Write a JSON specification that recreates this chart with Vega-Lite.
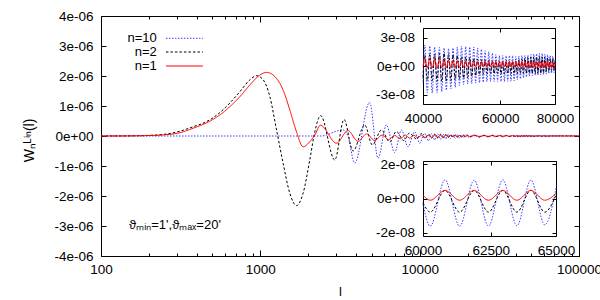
{
"$schema":"https://vega.github.io/schema/vega-lite/v6.json",
"width":478,"height":240,
"autosize":"none",
"padding":{"left":101,"top":16,"right":21,"bottom":44},
"config":{"view":{"stroke":null},"font":"Liberation Sans",
"axis":{"grid":false,"domainColor":"#000","tickColor":"#000","labelColor":"#000","titleColor":"#000","labelFontSize":13.5,"titleFontSize":13,"titleFontWeight":"normal","labelFlush":false,"labelOverlap":false,"labelFont":"Liberation Sans","titleFont":"Liberation Sans"},
"text":{"font":"Liberation Sans","fontSize":13,"color":"#000"}},
"datasets":{"curves":[
{"l":100,"n=10":0,"n=2":0,"n=1":0},
{"l":150,"n=2":5e-9,"n=1":3e-9},
{"l":200,"n=2":2e-8,"n=1":1.5e-8},
{"l":234,"n=2":4e-8,"n=1":3e-8},
{"l":313,"n=2":1.6e-7,"n=1":1.1e-7},
{"l":379,"n=2":3.1e-7,"n=1":2.6e-7},
{"l":460,"n=2":4.8e-7,"n=1":4.4e-7},
{"l":557,"n=2":7.8e-7,"n=1":7.0e-7},
{"l":644,"n=2":1.1e-6,"n=1":9.8e-7},
{"l":744,"n=2":1.48e-6,"n=1":1.31e-6},
{"l":859,"n=2":1.87e-6,"n=1":1.7e-6},
{"l":946,"n=2":2.01e-6},
{"l":993,"n=1":2.03e-6},
{"l":1043,"n=2":1.87e-6},
{"l":1093,"n=1":2.12e-6},
{"l":1148,"n=2":1.31e-6},
{"l":1234,"n=1":1.98e-6},
{"l":1264,"n=2":2e-7},
{"l":1390,"n=2":-9.1e-7,"n=1":1.53e-6},
{"l":1531,"n=2":-1.91e-6,"n=1":8.7e-7},
{"l":1687,"n=2":-2.32e-6,"n=1":1.4e-7},
{"l":1855,"n=2":-1.91e-6,"n=1":-3.6e-7},
{"l":2043,"n=2":-8e-7,"n=1":-1.9e-7},
{"l":2197,"n=2":1.4e-7,"n=1":3e-8},
{"l":2380,"n=1":3.6e-7},
{"l":2390,"n=2":6.8e-7},
{"l":2400,"n=10":0},
{"l":2700,"n=10":6e-8},
{"l":2857,"n=10":1.2e-7},
{"l":2931,"n=2":-8e-7},
{"l":3006,"n=1":-2.4e-7},
{"l":3303,"n=10":2e-7},
{"l":3350,"n=2":5.5e-7},
{"l":3548,"n=10":0,"n=1":1.8e-7},
{"l":3818,"n=2":-5e-7},
{"l":3909,"n=10":-9e-7},
{"l":4100,"n=1":-1.8e-7},
{"l":4519,"n=2":3.7e-7},
{"l":4650,"n=1":7e-8},
{"l":4853,"n=10":1.12e-6},
{"l":5047,"n=2":-3e-7},
{"l":5220,"n=1":-1.5e-7},
{"l":5484,"n=10":-7.4e-7},
{"l":5754,"n=2":2e-7},
{"l":5800,"n=1":3e-8},
{"l":6180,"n=10":3.7e-7},
{"l":6400,"n=1":-1.2e-7},
{"l":6490,"n=2":-2e-7},
{"l":6950,"n=1":2e-8},
{"l":6970,"n=10":-5.5e-7},
{"l":7140,"n=2":1.5e-7},
{"l":7550,"n=1":-9e-8},
{"l":7680,"n=10":2e-7},
{"l":7940,"n=2":-1.5e-7},
{"l":8125,"n=1":3e-8},
{"l":8450,"n=10":-3.6e-7},
{"l":8630,"n=2":1e-7},
{"l":8663,"n=1":-7e-8},
{"l":9200,"n=1":2.5e-8},
{"l":9310,"n=10":1.4e-7},
{"l":9550,"n=2":-1e-7},
{"l":9737,"n=1":-6e-8},
{"l":10000,"n=10":-2.4e-7},
{"l":10275,"n=2":8e-8,"n=1":2.5e-8},
{"l":10750,"n=10":9e-8},
{"l":10812,"n=2":-8e-8,"n=1":-5e-8},
{"l":11350,"n=10":-1.6e-7,"n=2":7e-8,"n=1":2.2e-8},
{"l":11887,"n=10":8e-8,"n=2":-7e-8,"n=1":-4e-8},
{"l":12425,"n=10":-1.3e-7,"n=2":6e-8,"n=1":2e-8},
{"l":12962,"n=10":7e-8,"n=2":-6e-8,"n=1":-3.5e-8},
{"l":13500,"n=10":-1.1e-7,"n=2":5.5e-8,"n=1":2e-8},
{"l":14037,"n=10":6e-8,"n=2":-5.5e-8,"n=1":-3e-8},
{"l":14575,"n=10":-1e-7,"n=2":5e-8,"n=1":1.8e-8},
{"l":15112,"n=10":5.5e-8,"n=2":-5e-8,"n=1":-2.5e-8},
{"l":15650,"n=10":-9e-8,"n=2":4.5e-8,"n=1":1.7e-8},
{"l":16187,"n=10":5e-8,"n=2":-4.5e-8,"n=1":-2.2e-8},
{"l":16725,"n=10":-8e-8,"n=2":4e-8,"n=1":1.6e-8},
{"l":17262,"n=10":4.5e-8,"n=2":-4e-8,"n=1":-2e-8},
{"l":17800,"n=10":-7e-8,"n=2":3.5e-8,"n=1":1.5e-8},
{"l":18337,"n=10":4.2e-8,"n=2":-3.5e-8,"n=1":-1.8e-8},
{"l":18875,"n=10":-6.2e-8,"n=2":3e-8,"n=1":1.4e-8},
{"l":19412,"n=10":4e-8,"n=2":-3e-8,"n=1":-1.6e-8},
{"l":19950,"n=2":2.8e-8,"n=1":1.3e-8},
{"l":20487,"n=10":-5e-8,"n=2":-2.8e-8,"n=1":-1.4e-8},
{"l":22100,"n=10":3.5e-8,"n=2":2.2e-8,"n=1":1.3e-8},
{"l":23712,"n=10":-4.5e-8,"n=2":-2.5e-8,"n=1":-1.2e-8},
{"l":25325,"n=10":3.2e-8,"n=2":2e-8,"n=1":1.2e-8},
{"l":26937,"n=10":-4e-8,"n=2":-2.2e-8,"n=1":-1e-8},
{"l":28550,"n=10":3e-8,"n=2":1.8e-8,"n=1":1.1e-8},
{"l":30162,"n=10":-3.6e-8,"n=2":-2e-8,"n=1":-0.8e-8},
{"l":31775,"n=10":2.8e-8,"n=2":1.6e-8,"n=1":1e-8},
{"l":33387,"n=10":-3.3e-8,"n=2":-1.9e-8,"n=1":-0.6e-8},
{"l":35000,"n=10":2.6e-8,"n=2":1.4e-8,"n=1":0.95e-8},
{"l":36612,"n=10":-3e-8,"n=2":-1.7e-8,"n=1":-0.4e-8},
{"l":38225,"n=10":2.4e-8,"n=2":1.3e-8,"n=1":0.9e-8},
{"l":39837,"n=10":-2.8e-8,"n=2":-1.5e-8,"n=1":-0.25e-8},
{"l":40000,"n=10":-1.7e-8,"n=2":-1.2e-8,"n=1":-0.1e-8},
{"l":40375,"n=10":2.2e-8,"n=2":1.14e-8,"n=1":0.85e-8},
{"l":40912,"n=10":-2.8e-8,"n=2":-1.5e-8,"n=1":-0.22e-8},
{"l":41450,"n=10":2.1e-8,"n=2":1.2e-8,"n=1":0.8e-8},
{"l":41988,"n=10":-2.85e-8,"n=2":-1.55e-8,"n=1":-0.2e-8},
{"l":42525,"n=10":2.0e-8,"n=2":1.26e-8,"n=1":0.75e-8},
{"l":43062,"n=10":-2.8e-8,"n=2":-1.6e-8,"n=1":-0.2e-8},
{"l":43600,"n=10":1.95e-8,"n=2":1.3e-8,"n=1":0.7e-8},
{"l":44138,"n=10":-2.7e-8,"n=2":-1.63e-8,"n=1":-0.18e-8},
{"l":44675,"n=10":1.9e-8,"n=2":1.32e-8,"n=1":0.66e-8},
{"l":45212,"n=10":-2.55e-8,"n=2":-1.6e-8,"n=1":-0.17e-8},
{"l":45750,"n=10":1.85e-8,"n=2":1.28e-8,"n=1":0.62e-8},
{"l":46288,"n=10":-2.4e-8,"n=2":-1.55e-8,"n=1":-0.16e-8},
{"l":46825,"n=10":1.9e-8,"n=2":1.18e-8,"n=1":0.58e-8},
{"l":47362,"n=10":-2.25e-8,"n=2":-1.45e-8,"n=1":-0.15e-8},
{"l":47900,"n=10":2.0e-8,"n=2":1.08e-8,"n=1":0.55e-8},
{"l":48438,"n=10":-2.05e-8,"n=2":-1.35e-8,"n=1":-0.14e-8},
{"l":48975,"n=10":2.08e-8,"n=2":1.0e-8,"n=1":0.52e-8},
{"l":49512,"n=10":-1.95e-8,"n=2":-1.28e-8,"n=1":-0.13e-8},
{"l":50050,"n=10":2.05e-8,"n=2":0.95e-8,"n=1":0.5e-8},
{"l":50588,"n=10":-1.9e-8,"n=2":-1.2e-8,"n=1":-0.12e-8},
{"l":51125,"n=10":2.0e-8,"n=2":0.88e-8,"n=1":0.48e-8},
{"l":51662,"n=10":-1.85e-8,"n=2":-1.1e-8,"n=1":-0.12e-8},
{"l":52200,"n=10":2.0e-8,"n=2":0.8e-8,"n=1":0.47e-8},
{"l":52738,"n=10":-1.8e-8,"n=2":-1.0e-8,"n=1":-0.11e-8},
{"l":53275,"n=10":1.9e-8,"n=2":0.72e-8,"n=1":0.47e-8},
{"l":53812,"n=10":-1.75e-8,"n=2":-0.9e-8,"n=1":-0.1e-8},
{"l":54350,"n=10":1.75e-8,"n=2":0.66e-8,"n=1":0.47e-8},
{"l":54888,"n=10":-1.7e-8,"n=2":-0.82e-8,"n=1":-0.1e-8},
{"l":55425,"n=10":1.6e-8,"n=2":0.62e-8,"n=1":0.47e-8},
{"l":55962,"n=10":-1.65e-8,"n=2":-0.78e-8,"n=1":-0.1e-8},
{"l":56500,"n=10":1.5e-8,"n=2":0.58e-8,"n=1":0.47e-8},
{"l":57038,"n=10":-1.63e-8,"n=2":-0.78e-8,"n=1":-0.1e-8},
{"l":57575,"n=10":1.35e-8,"n=2":0.54e-8,"n=1":0.47e-8},
{"l":58112,"n=10":-1.63e-8,"n=2":-0.8e-8,"n=1":-0.1e-8},
{"l":58650,"n=10":1.2e-8,"n=2":0.5e-8,"n=1":0.47e-8},
{"l":59188,"n=10":-1.63e-8,"n=2":-0.8e-8,"n=1":-0.1e-8},
{"l":59725,"n=10":1.1e-8,"n=2":0.48e-8,"n=1":0.47e-8},
{"l":60000,"n=10":-0.32e-8,"n=2":-0.25e-8,"n=1":0.2e-8},
{"l":60262,"n=10":-1.63e-8,"n=2":-0.8e-8,"n=1":-0.1e-8},
{"l":60800,"n=10":1.1e-8,"n=2":0.47e-8,"n=1":0.47e-8},
{"l":61338,"n=10":-1.63e-8,"n=2":-0.8e-8,"n=1":-0.1e-8},
{"l":61875,"n=10":1.08e-8,"n=2":0.47e-8,"n=1":0.47e-8},
{"l":62412,"n=10":-1.62e-8,"n=2":-0.8e-8,"n=1":-0.1e-8},
{"l":62950,"n=10":1.1e-8,"n=2":0.47e-8,"n=1":0.47e-8},
{"l":63488,"n=10":-1.6e-8,"n=2":-0.8e-8,"n=1":-0.1e-8},
{"l":64025,"n=10":1.08e-8,"n=2":0.48e-8,"n=1":0.47e-8},
{"l":64562,"n=10":-1.55e-8,"n=2":-0.8e-8,"n=1":-0.1e-8},
{"l":65000,"n=10":0.6e-8,"n=2":0.2e-8,"n=1":0.3e-8},
{"l":65100,"n=10":1.0e-8,"n=2":0.52e-8,"n=1":0.47e-8},
{"l":65638,"n=10":-1.45e-8,"n=2":-0.78e-8,"n=1":-0.1e-8},
{"l":66175,"n=10":1.05e-8,"n=2":0.6e-8,"n=1":0.46e-8},
{"l":66712,"n=10":-1.35e-8,"n=2":-0.76e-8,"n=1":-0.11e-8},
{"l":67250,"n=10":1.1e-8,"n=2":0.7e-8,"n=1":0.46e-8},
{"l":67788,"n=10":-1.25e-8,"n=2":-0.76e-8,"n=1":-0.12e-8},
{"l":68325,"n=10":1.12e-8,"n=2":0.8e-8,"n=1":0.45e-8},
{"l":68862,"n=10":-1.15e-8,"n=2":-0.76e-8,"n=1":-0.12e-8},
{"l":69400,"n=10":1.14e-8,"n=2":0.86e-8,"n=1":0.45e-8},
{"l":69938,"n=10":-1.08e-8,"n=2":-0.76e-8,"n=1":-0.13e-8},
{"l":70475,"n=10":1.2e-8,"n=2":0.9e-8,"n=1":0.45e-8},
{"l":71012,"n=10":-1.02e-8,"n=2":-0.76e-8,"n=1":-0.13e-8},
{"l":71550,"n=10":1.25e-8,"n=2":0.94e-8,"n=1":0.44e-8},
{"l":72088,"n=10":-0.98e-8,"n=2":-0.76e-8,"n=1":-0.14e-8},
{"l":72625,"n=10":1.3e-8,"n=2":0.97e-8,"n=1":0.44e-8},
{"l":73162,"n=10":-0.95e-8,"n=2":-0.76e-8,"n=1":-0.14e-8},
{"l":73700,"n=10":1.32e-8,"n=2":0.97e-8,"n=1":0.44e-8},
{"l":74238,"n=10":-0.94e-8,"n=2":-0.76e-8,"n=1":-0.14e-8},
{"l":74775,"n=10":1.32e-8,"n=2":0.95e-8,"n=1":0.43e-8},
{"l":75312,"n=10":-0.9e-8,"n=2":-0.7e-8,"n=1":-0.15e-8},
{"l":75850,"n=10":1.25e-8,"n=2":0.9e-8,"n=1":0.43e-8},
{"l":76388,"n=10":-0.85e-8,"n=2":-0.62e-8,"n=1":-0.15e-8},
{"l":76925,"n=10":1.18e-8,"n=2":0.85e-8,"n=1":0.43e-8},
{"l":77462,"n=10":-0.8e-8,"n=2":-0.55e-8,"n=1":-0.15e-8},
{"l":78000,"n=10":1.1e-8,"n=2":0.82e-8,"n=1":0.42e-8},
{"l":78538,"n=10":-0.76e-8,"n=2":-0.48e-8,"n=1":-0.15e-8},
{"l":79075,"n=10":1.04e-8,"n=2":0.8e-8,"n=1":0.42e-8},
{"l":79612,"n=10":-0.72e-8,"n=2":-0.42e-8,"n=1":-0.15e-8},
{"l":80000,"n=10":0.67e-8,"n=2":0.57e-8,"n=1":0.31e-8},
{"l":80150,"n=10":1.0e-8,"n=2":0.8e-8,"n=1":0.4e-8},
{"l":81762,"n=10":-0.7e-8,"n=2":-0.4e-8,"n=1":-0.15e-8},
{"l":83375,"n=10":0.95e-8,"n=2":0.75e-8,"n=1":0.4e-8},
{"l":84987,"n=10":-0.68e-8,"n=2":-0.4e-8,"n=1":-0.14e-8},
{"l":86600,"n=10":0.9e-8,"n=2":0.7e-8,"n=1":0.38e-8},
{"l":88212,"n=10":-0.65e-8,"n=2":-0.38e-8,"n=1":-0.14e-8},
{"l":89825,"n=10":0.88e-8,"n=2":0.68e-8,"n=1":0.37e-8},
{"l":91437,"n=10":-0.62e-8,"n=2":-0.37e-8,"n=1":-0.13e-8},
{"l":93050,"n=10":0.85e-8,"n=2":0.65e-8,"n=1":0.36e-8},
{"l":94662,"n=10":-0.6e-8,"n=2":-0.36e-8,"n=1":-0.13e-8},
{"l":96275,"n=10":0.82e-8,"n=2":0.62e-8,"n=1":0.35e-8},
{"l":97887,"n=10":-0.58e-8,"n=2":-0.35e-8,"n=1":-0.12e-8},
{"l":99500,"n=10":0.8e-8,"n=2":0.6e-8,"n=1":0.34e-8},
{"l":100000,"n=10":0,"n=2":0,"n=1":0}
]},
"layer":[
{"layer":[
 {"data":{"name":"curves"},
  "transform":[{"fold":["n=10","n=2","n=1"],"as":["n","W"]},{"filter":"isValid(datum.W)"}],
  "mark":{"type":"line","interpolate":"monotone","strokeWidth":1},
  "encoding":{
   "x":{"field":"l","type":"quantitative","scale":{"type":"log","domain":[100,100000],"nice":false},
    "axis":{"orient":"bottom","tickCount":40,"values":[100,200,300,400,500,600,700,800,900,1000,2000,3000,4000,5000,6000,7000,8000,9000,10000,20000,30000,40000,50000,60000,70000,80000,90000,100000],
     "labelExpr":"abs(log(datum.value)/LN10-round(log(datum.value)/LN10))<0.001 ? format(datum.value,'d') : ''",
     "tickSize":{"condition":{"test":"abs(log(datum.value)/LN10-round(log(datum.value)/LN10))<0.001","value":-6},"value":-3},
     "labelPadding":12.5,"title":"l","titleX":239,"titleY":29}},
   "y":{"field":"W","type":"quantitative","scale":{"domain":[-4e-6,4e-6],"nice":false,"zero":false},
    "axis":{"orient":"left","tickCount":12,"values":[-4e-6,-3e-6,-2e-6,-1e-6,0,1e-6,2e-6,3e-6,4e-6],
     "labelExpr":"replace(replace(replace(format(datum.value,'.0e'),'−','-'),'e-','e-0'),'e+','e+0')",
     "tickSize":-5,"labelPadding":13,"title":"Wₙᴸⁱⁿ(l)","titleFontSize":14,"titleX":-65,"titleY":124}},
   "color":{"field":"n","type":"nominal","scale":{"domain":["n=10","n=2","n=1"],"range":["#3a3aff","#000000","#ff0000"]},"legend":null},
   "strokeDash":{"field":"n","type":"nominal","scale":{"domain":["n=10","n=2","n=1"],"range":[[1.5,1.5],[2.5,2],[1,0]]},"legend":null}
  }},
 {"data":{"values":[{}]},"mark":{"type":"rule","color":"#3a3aff","strokeDash":[1.5,1.5],"strokeWidth":1},
  "encoding":{"x":{"datum":255.6},"x2":{"datum":436},"y":{"datum":3.257e-6}}},
 {"data":{"values":[{}]},"mark":{"type":"rule","color":"#000000","strokeDash":[2.5,2],"strokeWidth":1},
  "encoding":{"x":{"datum":255.6},"x2":{"datum":436},"y":{"datum":2.8e-6}}},
 {"data":{"values":[{}]},"mark":{"type":"rule","color":"#ff0000","strokeWidth":1},
  "encoding":{"x":{"datum":255.6},"x2":{"datum":436},"y":{"datum":2.333e-6}}},
 {"data":{"values":[{}]},"mark":{"type":"text","align":"right","baseline":"middle"},
  "encoding":{"x":{"datum":224},"y":{"datum":3.257e-6},"text":{"value":"n=10"}}},
 {"data":{"values":[{}]},"mark":{"type":"text","align":"right","baseline":"middle"},
  "encoding":{"x":{"datum":224},"y":{"datum":2.8e-6},"text":{"value":"n=2"}}},
 {"data":{"values":[{}]},"mark":{"type":"text","align":"right","baseline":"middle"},
  "encoding":{"x":{"datum":224},"y":{"datum":2.333e-6},"text":{"value":"n=1"}}},
 {"data":{"values":[{}]},"mark":{"type":"text","align":"left","baseline":"alphabetic"},
  "encoding":{"x":{"datum":150},"y":{"datum":-3.1e-6},"text":{"value":"ϑₘᵢₙ=1',ϑₘₐₓ=20'"}}}
]},
{"data":{"name":"curves"},"transform":[{"filter":"false"}],
 "mark":{"type":"point","opacity":0},
 "encoding":{
  "x":{"field":"l","type":"quantitative","scale":{"type":"log","domain":[100,100000],"nice":false},
   "axis":{"orient":"top","tickCount":40,"values":[100,200,300,400,500,600,700,800,900,1000,2000,3000,4000,5000,6000,7000,8000,9000,10000,20000,30000,40000,50000,60000,70000,80000,90000,100000],"labels":false,"title":null,
    "tickSize":{"condition":{"test":"abs(log(datum.value)/LN10-round(log(datum.value)/LN10))<0.001","value":-6},"value":-3}}},
  "y":{"field":"W","type":"quantitative","scale":{"domain":[-4e-6,4e-6],"nice":false,"zero":false},
   "axis":{"orient":"right","tickCount":12,"values":[-4e-6,-3e-6,-2e-6,-1e-6,0,1e-6,2e-6,3e-6,4e-6],"labels":false,"title":null,"tickSize":-5}}
 }},
{"data":{"name":"curves"},
 "transform":[{"fold":["n=10","n=2","n=1"],"as":["n","W"]},{"filter":"isValid(datum.W) && datum.l >= 40000 && datum.l <= 80000"}],
 "mark":{"type":"line","interpolate":"monotone","strokeWidth":1},
 "encoding":{
  "x":{"field":"l","type":"quantitative","scale":{"type":"log","domain":[40000,80000],"range":[322,454],"nice":false},
   "axis":{"orient":"bottom","offset":-152,"tickCount":5,"values":[40000,60000,80000],"format":"d","tickSize":-4,"labelPadding":11,"title":null}},
  "y":{"field":"W","type":"quantitative","scale":{"domain":[-4e-8,4e-8],"range":[88,12],"nice":false,"zero":false},
   "axis":{"orient":"left","offset":-322,"tickCount":5,"values":[-3e-8,0,3e-8],"labelExpr":"replace(replace(replace(format(datum.value,'.0e'),'−','-'),'e-','e-0'),'e+','e+0')","tickSize":-4,"labelPadding":12.5,"title":null}},
  "color":{"field":"n","type":"nominal","scale":{"domain":["n=10","n=2","n=1"],"range":["#3a3aff","#000000","#ff0000"]},"legend":null},
  "strokeDash":{"field":"n","type":"nominal","scale":{"domain":["n=10","n=2","n=1"],"range":[[1.5,1.5],[2.5,2],[1,0]]},"legend":null}
 }},
{"data":{"name":"curves"},"transform":[{"filter":"false"}],
 "mark":{"type":"point","opacity":0},
 "encoding":{
  "x":{"field":"l","type":"quantitative","scale":{"type":"log","domain":[40000,80000],"range":[322,454],"nice":false},
   "axis":{"orient":"top","offset":-12,"tickCount":5,"values":[40000,60000,80000],"labels":false,"tickSize":-4,"title":null}},
  "y":{"field":"W","type":"quantitative","scale":{"domain":[-4e-8,4e-8],"range":[88,12],"nice":false,"zero":false},
   "axis":{"orient":"right","offset":-24,"tickCount":5,"values":[-3e-8,0,3e-8],"labels":false,"tickSize":-4,"title":null}}
 }},
{"data":{"name":"curves"},
 "transform":[{"fold":["n=10","n=2","n=1"],"as":["n","W"]},{"filter":"isValid(datum.W) && datum.l >= 60000 && datum.l <= 65000"}],
 "mark":{"type":"line","interpolate":"monotone","strokeWidth":1},
 "encoding":{
  "x":{"field":"l","type":"quantitative","scale":{"type":"log","domain":[60000,65000],"range":[322,455],"nice":false},
   "axis":{"orient":"bottom","offset":-20,"tickCount":5,"values":[60000,62500,65000],"format":"d","tickSize":-4,"labelPadding":11,"title":null}},
  "y":{"field":"W","type":"quantitative","scale":{"domain":[-2.2e-8,2.2e-8],"range":[220,145],"nice":false,"zero":false},
   "axis":{"orient":"left","offset":-322,"tickCount":5,"values":[-2e-8,0,2e-8],"labelExpr":"replace(replace(replace(format(datum.value,'.0e'),'−','-'),'e-','e-0'),'e+','e+0')","tickSize":-4,"labelPadding":12.5,"title":null}},
  "color":{"field":"n","type":"nominal","scale":{"domain":["n=10","n=2","n=1"],"range":["#3a3aff","#000000","#ff0000"]},"legend":null},
  "strokeDash":{"field":"n","type":"nominal","scale":{"domain":["n=10","n=2","n=1"],"range":[[1.5,1.5],[2.5,2],[1,0]]},"legend":null}
 }},
{"data":{"name":"curves"},"transform":[{"filter":"false"}],
 "mark":{"type":"point","opacity":0},
 "encoding":{
  "x":{"field":"l","type":"quantitative","scale":{"type":"log","domain":[60000,65000],"range":[322,455],"nice":false},
   "axis":{"orient":"top","offset":-145,"tickCount":5,"values":[60000,62500,65000],"labels":false,"tickSize":-4,"title":null}},
  "y":{"field":"W","type":"quantitative","scale":{"domain":[-2.2e-8,2.2e-8],"range":[220,145],"nice":false,"zero":false},
   "axis":{"orient":"right","offset":-23,"tickCount":5,"values":[-2e-8,0,2e-8],"labels":false,"tickSize":-4,"title":null}}
 }}
],
"resolve":{"scale":{"x":"independent","y":"independent"},"axis":{"x":"independent","y":"independent"}}
}
